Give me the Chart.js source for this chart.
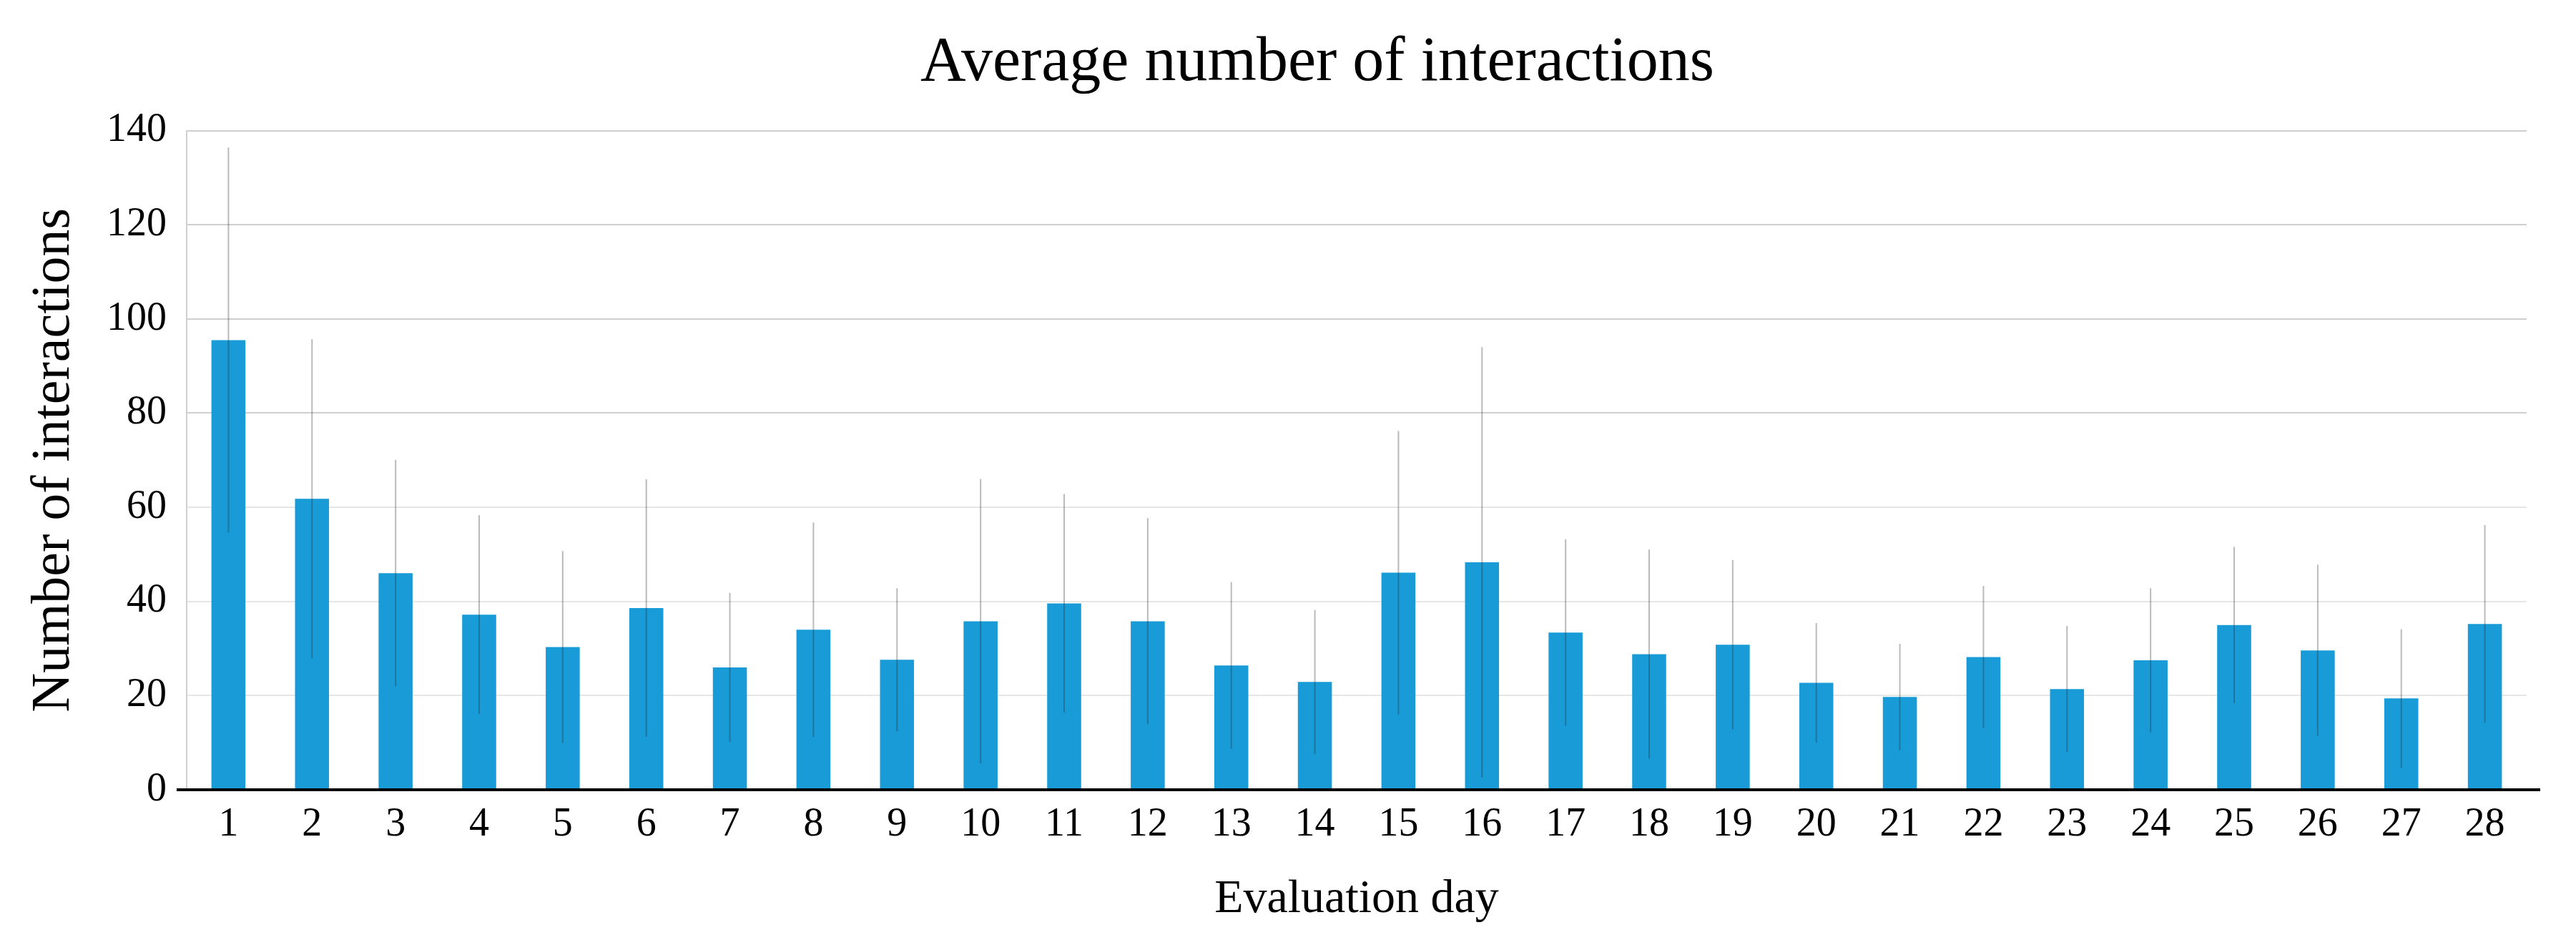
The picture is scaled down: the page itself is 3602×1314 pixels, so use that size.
<!DOCTYPE html>
<html>
<head>
<meta charset="utf-8">
<script src="https://cdn.jsdelivr.net/npm/chart.js@4.4.0/dist/chart.umd.min.js"></script>
<style>
  html, body { margin: 0; padding: 0; background: #fff; }
  #wrap { width: 3602px; height: 1314px; position: relative; }
</style>
</head>
<body>
<div id="wrap"><canvas id="interactionsChart"></canvas></div>
<script>
const days = ['1','2','3','4','5','6','7','8','9','10','11','12','13','14',
              '15','16','17','18','19','20','21','22','23','24','25','26','27','28'];
const meanInteractions = [95.5, 61.8, 46.0, 37.2, 30.3, 38.6, 26.0, 34.0, 27.6, 35.8,
                          39.6, 35.8, 26.4, 22.9, 46.1, 48.3, 33.4, 28.8, 30.8, 22.7,
                          19.7, 28.2, 21.4, 27.5, 35.0, 29.6, 19.4, 35.2];
const sdInteractions = [40.9, 33.9, 24.1, 21.1, 20.4, 27.4, 15.8, 22.8, 15.2, 30.2,
                        23.2, 21.9, 17.7, 15.3, 30.1, 45.7, 19.8, 22.2, 18.0, 12.7,
                        11.3, 15.1, 13.4, 15.3, 16.6, 18.2, 14.7, 21.0];
const yTicks = [0, 20, 40, 60, 80, 100, 120, 140];

const serif = "'Liberation Serif', 'Times New Roman', serif";

// thin error bars (no caps) drawn over the bars
const errorBars = {
    id: 'errorBars',
    afterDatasetsDraw(chart) {
        const ctx = chart.ctx;
        const meta = chart.getDatasetMeta(0);
        const y = chart.scales.y;
        ctx.save();
        ctx.strokeStyle = 'rgba(40, 40, 40, 0.32)';
        ctx.lineWidth = 2;
        meta.data.forEach((bar, i) => {
            const m = meanInteractions[i], sd = sdInteractions[i];
            ctx.beginPath();
            ctx.moveTo(bar.x, y.getPixelForValue(m + sd));
            ctx.lineTo(bar.x, y.getPixelForValue(Math.max(0, m - sd)));
            ctx.stroke();
        });
        ctx.restore();
    }
};

// black baseline, a bit longer than the plot area
const baseLine = {
    id: 'baseLine',
    afterDatasetsDraw(chart) {
        const ctx = chart.ctx;
        const area = chart.chartArea;
        const y0 = chart.scales.y.getPixelForValue(0);
        ctx.save();
        ctx.strokeStyle = '#000';
        ctx.lineWidth = 4;
        ctx.beginPath();
        ctx.moveTo(area.left - 14, y0);
        ctx.lineTo(area.right + 19, y0);
        ctx.stroke();
        ctx.restore();
    }
};

const ctx = document.getElementById('interactionsChart').getContext('2d');
new Chart(ctx, {
    type: 'bar',
    data: {
        labels: days,
        datasets: [{
            label: 'Average number of interactions',
            data: meanInteractions,
            backgroundColor: '#199bd7',
            borderWidth: 0,
            categoryPercentage: 1.0,
            barPercentage: 0.407
        }]
    },
    options: {
        responsive: true,
        maintainAspectRatio: false,
        animation: false,
        devicePixelRatio: 1,
        // left padding pushes the main title to the right, y axis pulled back below
        layout: { padding: { left: 151, right: 69, top: 0, bottom: 0 } },
        plugins: {
            legend: { display: false },
            tooltip: { enabled: false },
            title: {
                display: true,
                text: 'Average number of interactions',
                color: '#000',
                font: { family: serif, size: 88, weight: 'normal' },
                padding: { top: 36, bottom: 41 }
            }
        },
        scales: {
            x: {
                grid: { display: false, drawTicks: false },
                border: { display: false },
                ticks: {
                    color: '#000',
                    font: { family: serif, size: 56 },
                    padding: 16,
                    maxRotation: 0,
                    autoSkip: false
                },
                title: {
                    display: true,
                    text: 'Evaluation day',
                    color: '#000',
                    font: { family: serif, size: 66 },
                    padding: { top: 0, bottom: 17 }
                },
                afterFit(scale) { scale.height = 210; }
            },
            y: {
                min: 0,
                max: 140,
                afterBuildTicks(scale) { scale.ticks = yTicks.map(v => ({ value: v })); },
                grid: {
                    drawTicks: false,
                    lineWidth: 2,
                    color: c => (c.tick && c.tick.value >= 80) ? '#cfcfcf' : '#e6e6e6'
                },
                border: { display: true, color: '#d0d0d0', width: 2 },
                ticks: {
                    color: '#000',
                    font: { family: serif, size: 56 },
                    padding: 28
                },
                title: {
                    display: true,
                    text: 'Number of interactions',
                    color: '#000',
                    font: { family: serif, size: 76 },
                    padding: { top: -121, bottom: 0 }
                },
                afterFit(scale) { scale.width = 110; }
            }
        }
    },
    plugins: [errorBars, baseLine]
});
</script>
</body>
</html>
